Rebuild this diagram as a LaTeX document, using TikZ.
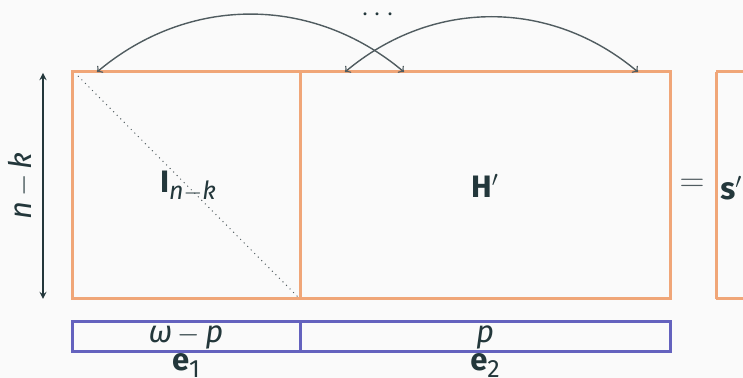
\documentclass[tikz,border=0pt]{standalone}
\usepackage{fontspec}
\setmainfont{Fira Sans}
\definecolor{bgcol}{RGB}{250,250,250}
\definecolor{txtcol}{RGB}{35,55,59}
\definecolor{matorange}{RGB}{240,166,120}
\definecolor{vecpurple}{RGB}{100,98,190}
\definecolor{arcgray}{RGB}{80,92,96}
\tikzset{
  matbox/.style={draw=matorange,line width=1.5pt},
  vecbox/.style={draw=vecpurple,line width=1.5pt},
  lbl/.style={text=txtcol,font=\fontsize{15.5}{18}\selectfont,inner sep=0pt},
  swap arc/.style={draw=arcgray,line width=0.7pt,<->,>=to,bend right=40},
}
\newcommand{\mminus}{\,$-$\,}
\newcommand{\subtxt}[1]{\raisebox{-0.4ex}{\fontsize{12.5}{14}\selectfont #1}}
\begin{document}
\begin{tikzpicture}[x=0.5pt,y=-0.5pt]
\fill[bgcol] (0,0) rectangle (743,378);
\useasboundingbox (0,0) rectangle (743,378);
% matrix [I | H']
\draw[matbox] (72,72) rectangle (670,299);
\draw[matbox] (300,72) -- (300,299);
\draw[arcgray,dotted,line width=0.5pt] (78,76) -- (298,297);
\node[lbl] (ident) at (188,186) {{\bfseries I}\subtxt{\itshape n$-$k}};
\node[lbl] (hprime) at (485,186) {{\bfseries H}$'$};
% syndrome
\draw[matbox] (716,72) -- (716,299);
\draw[matbox] (716,72) -- (745,72);
\draw[matbox] (716,299) -- (745,299);
\node[lbl,text=arcgray,font=\fontsize{18}{20}\selectfont] (eq) at (692,185) {$=$};
\node[lbl,anchor=west] (synd) at (720,188) {{\bfseries s}$'$};
% height
\coordinate (htop) at (43,73);
\coordinate (hbot) at (43,299);
\draw[txtcol,line width=0.6pt,-stealth] (43,186) -- (htop);
\draw[txtcol,line width=0.6pt,-stealth] (43,186) -- (hbot);
\node[lbl,rotate=90] (hlab) at (21,186) {\itshape n\mminus k};
% error vector
\draw[vecbox] (72,322) rectangle (670,352);
\draw[vecbox] (300,322) -- (300,352);
\node[lbl] (wlab) at (186,337) {\itshape ω\mminus p};
\node[lbl] (plab) at (485,337) {\itshape p};
\node[lbl,anchor=base] (eone) at (186,371) {{\bfseries e}\subtxt{1}};
\node[lbl,anchor=base] (etwo) at (485,371) {{\bfseries e}\subtxt{2}};
% column swaps
\coordinate (swapa1) at (97,72);
\coordinate (swapa2) at (404,72);
\coordinate (swapb1) at (345,72);
\coordinate (swapb2) at (638,72);
\draw[swap arc] (swapa2) to (swapa1);
\draw[swap arc] (swapb2) to (swapb1);
\node[lbl] (dots) at (378,15) {$\cdots$};
\end{tikzpicture}
\end{document}
